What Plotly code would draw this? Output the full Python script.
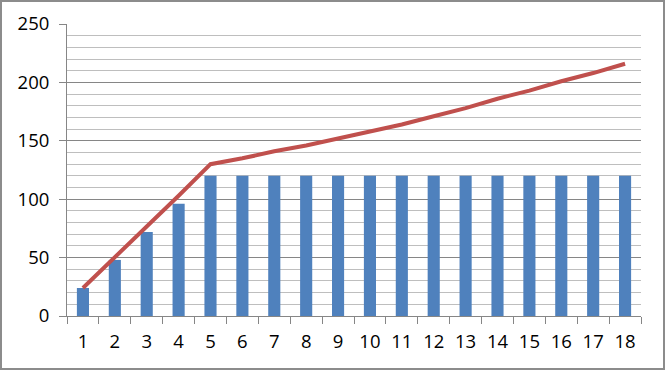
import plotly.graph_objects as go

categories = [str(i) for i in range(1, 19)]
bar_values = [24, 48, 72, 96, 120, 120, 120, 120, 120, 120, 120, 120, 120, 120, 120, 120, 120, 120]
line_values = [24, 50, 77, 103, 130, 135, 141, 146, 152, 158, 164, 171, 178, 186, 193, 201, 208, 216]
y_ticks = [0, 50, 100, 150, 200, 250]

W, H = 665, 370
ml, mr, mt, mb = 67, 24, 24, 54
pw, ph = W - ml - mr, H - mt - mb

fig = go.Figure()
fig.add_trace(go.Bar(x=categories, y=bar_values, marker=dict(color="#4F81BD", line=dict(width=0)),
                     showlegend=False))
fig.add_trace(go.Scatter(x=categories, y=line_values, mode="lines",
                         line=dict(color="#C0504D", width=4), showlegend=False))

font = dict(family="Open Sans, Liberation Sans, sans-serif", size=18.5, color="#000000")

fig.update_layout(
    width=W, height=H,
    margin=dict(l=ml, r=mr, t=mt, b=mb, pad=0, autoexpand=False),
    paper_bgcolor="white", plot_bgcolor="white",
    bargap=0.62,
    xaxis=dict(type="category", showgrid=False, showline=True, linecolor="#868686", linewidth=1,
               ticks="outside", tickson="boundaries", ticklen=7, tickcolor="#868686",
               tickfont=font, ticklabelstandoff=9, zeroline=False, fixedrange=True,
               automargin=False),
    yaxis=dict(range=[0, 250], tickvals=y_ticks, showgrid=True, gridcolor="#868686", gridwidth=1,
               showline=True, linecolor="#868686", linewidth=1,
               ticks="outside", ticklen=7, tickcolor="#868686", tickfont=font,
               ticklabelstandoff=6, automargin=False,
               minor=dict(dtick=10, showgrid=True, gridcolor="#BEBEBE", gridwidth=1, ticks=""),
               zeroline=False, fixedrange=True),
    shapes=[dict(type="rect", xref="paper", yref="paper",
                 x0=(-ml + 1) / pw, x1=(pw + mr - 1) / pw,
                 y0=(-mb + 1) / ph, y1=(ph + mt - 1) / ph,
                 line=dict(color="#8C8C8C", width=2), layer="below")],
)

fig.write_html("out.html")
